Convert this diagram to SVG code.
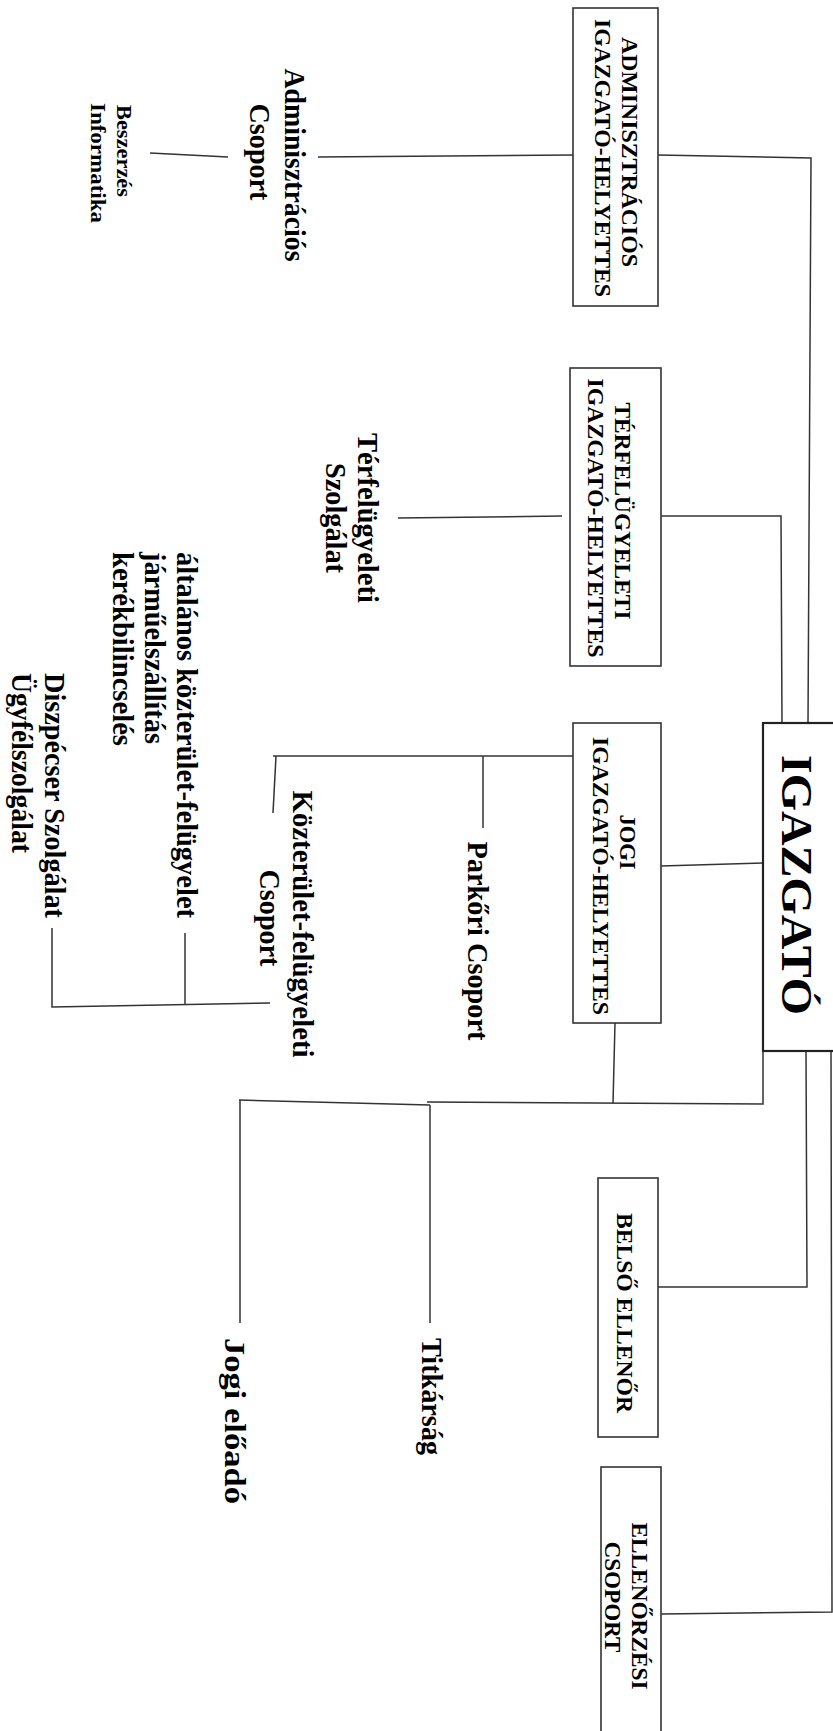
<svg xmlns="http://www.w3.org/2000/svg" width="833" height="1731" viewBox="0 0 833 1731">
<style>
.t{font-family:"Liberation Serif","Times New Roman",serif;font-weight:bold;fill:#000;}
.b{font-size:24px;text-anchor:middle;}
.l{font-size:29px;}
.m{text-anchor:middle;}
.s{font-size:22px;}
.box{fill:#fff;stroke:#333;stroke-width:1.6;}
.big{fill:#fff;stroke:#222;stroke-width:2.2;}
#connectors line,#connectors polyline{stroke:#333;stroke-width:1.5;fill:none;}
</style>
<rect width="833" height="1731" fill="#fff"/>
<g id="connectors">
<polyline points="658,155 811,158 808,723"/>
<polyline points="661,516 781,516 782,723"/>
<line x1="661" y1="866" x2="763" y2="863"/>
<line x1="573" y1="155" x2="318" y2="157"/>
<line x1="150" y1="153" x2="228" y2="157"/>
<line x1="562" y1="516" x2="398" y2="518"/>
<line x1="573" y1="756" x2="273" y2="756"/>
<line x1="483" y1="756" x2="483" y2="828"/>
<line x1="276" y1="756" x2="273" y2="813"/>
<polyline points="52,928 52,1007 270,1003"/>
<line x1="185" y1="933" x2="185" y2="1005"/>
<line x1="615" y1="1023" x2="613" y2="1103"/>
<polyline points="763,1050 763,1104 427,1102"/>
<line x1="430" y1="1105" x2="239" y2="1100"/>
<line x1="430" y1="1105" x2="430" y2="1323"/>
<line x1="240" y1="1100" x2="240" y2="1323"/>
<polyline points="806,1050 807,1287 658,1287"/>
<polyline points="831,1050 832,1612 661,1614"/>
</g>
<g id="igazgato">
<rect class="big" x="763" y="723" width="80" height="328"/>
<text class="t" font-size="44" text-anchor="middle" textLength="260" lengthAdjust="spacingAndGlyphs" transform="translate(782,885) rotate(90)">IGAZGATÓ</text>
</g>
<g id="admin-helyettes">
<rect class="box" x="573" y="8" width="85" height="298"/>
<text class="t b" textLength="230" lengthAdjust="spacingAndGlyphs" transform="translate(622,152) rotate(90)">ADMINISZTRÁCIÓS</text>
<text class="t b" textLength="278" lengthAdjust="spacingAndGlyphs" transform="translate(595,158) rotate(90)">IGAZGATÓ-HELYETTES</text>
</g>
<g id="terfelugyeleti-helyettes">
<rect class="box" x="570" y="368" width="91" height="298"/>
<text class="t b" textLength="217" lengthAdjust="spacingAndGlyphs" transform="translate(615,511) rotate(90)">TÉRFELÜGYELETI</text>
<text class="t b" textLength="279" lengthAdjust="spacingAndGlyphs" transform="translate(588,518) rotate(90)">IGAZGATÓ-HELYETTES</text>
</g>
<g id="jogi-helyettes">
<rect class="box" x="573" y="723" width="88" height="300"/>
<text class="t b" textLength="55" lengthAdjust="spacingAndGlyphs" transform="translate(620,842) rotate(90)">JOGI</text>
<text class="t b" textLength="278" lengthAdjust="spacingAndGlyphs" transform="translate(593,876) rotate(90)">IGAZGATÓ-HELYETTES</text>
</g>
<g id="belso-ellenor">
<rect class="box" x="598" y="1178" width="60" height="259"/>
<text class="t b" textLength="200" lengthAdjust="spacingAndGlyphs" transform="translate(617,1313) rotate(90)">BELSŐ ELLENŐR</text>
</g>
<g id="ellenorzesi-csoport">
<rect class="box" x="601" y="1467" width="60" height="280"/>
<text class="t b" textLength="167" lengthAdjust="spacingAndGlyphs" transform="translate(632,1606) rotate(90)">ELLENŐRZÉSI</text>
<text class="t b" textLength="111" lengthAdjust="spacingAndGlyphs" transform="translate(605,1597) rotate(90)">CSOPORT</text>
</g>
<g id="adminisztracios-csoport">
<text class="t l m" textLength="193" lengthAdjust="spacingAndGlyphs" transform="translate(285,165) rotate(90)">Adminisztrációs</text>
<text class="t l m" textLength="97" lengthAdjust="spacingAndGlyphs" transform="translate(250,152) rotate(90)">Csoport</text>
</g>
<g id="beszerzes-informatika">
<text class="t s" textLength="92" lengthAdjust="spacingAndGlyphs" transform="translate(117,105) rotate(90)">Beszerzés</text>
<text class="t s" textLength="120" lengthAdjust="spacingAndGlyphs" transform="translate(91,103) rotate(90)">Informatika</text>
</g>
<g id="terfelugyeleti-szolgalat">
<text class="t l m" textLength="170" lengthAdjust="spacingAndGlyphs" transform="translate(358,518) rotate(90)">Térfelügyeleti</text>
<text class="t l m" textLength="110" lengthAdjust="spacingAndGlyphs" transform="translate(326,518) rotate(90)">Szolgálat</text>
</g>
<g id="parkori-csoport">
<text class="t l m" textLength="199" lengthAdjust="spacingAndGlyphs" transform="translate(468,941) rotate(90)">Parkőri Csoport</text>
</g>
<g id="kozterulet-csoport">
<text class="t l m" textLength="267" lengthAdjust="spacingAndGlyphs" transform="translate(293,924) rotate(90)">Közterület-felügyeleti</text>
<text class="t l m" textLength="97" lengthAdjust="spacingAndGlyphs" transform="translate(260,918) rotate(90)">Csoport</text>
</g>
<g id="altalanos">
<text class="t l" textLength="366" lengthAdjust="spacingAndGlyphs" transform="translate(177,552) rotate(90)">általános közterület-felügyelet</text>
<text class="t l" textLength="192" lengthAdjust="spacingAndGlyphs" transform="translate(145,552) rotate(90)">járműelszállítás</text>
<text class="t l" textLength="194" lengthAdjust="spacingAndGlyphs" transform="translate(113,552) rotate(90)">kerékbilincselés</text>
</g>
<g id="diszpecser">
<text class="t l" textLength="245" lengthAdjust="spacingAndGlyphs" transform="translate(45,673) rotate(90)">Diszpécser Szolgálat</text>
<text class="t l" textLength="180" lengthAdjust="spacingAndGlyphs" transform="translate(12,673) rotate(90)">Ügyfélszolgálat</text>
</g>
<g id="titkarsag">
<text class="t l" textLength="117" lengthAdjust="spacingAndGlyphs" transform="translate(422,1338) rotate(90)">Titkárság</text>
</g>
<g id="jogi-eloado">
<text class="t l" textLength="166" lengthAdjust="spacingAndGlyphs" transform="translate(225,1338) rotate(90)">Jogi előadó</text>
</g>
</svg>
